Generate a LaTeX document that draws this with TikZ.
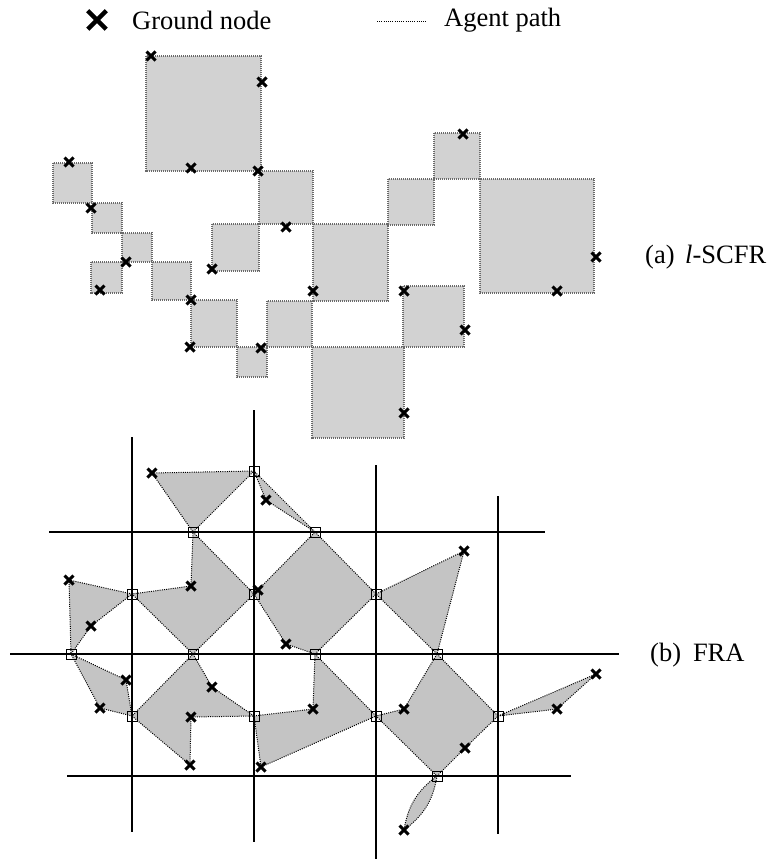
\documentclass[tikz,border=0pt]{standalone}
\usepackage{fontspec}
\setmainfont{Liberation Serif}
\usetikzlibrary{shapes.misc}
\definecolor{filla}{RGB}{210,210,210}
\definecolor{edgea}{RGB}{105,105,105}
\definecolor{fillb}{RGB}{196,196,196}
\begin{document}
\begin{tikzpicture}[x=1pt,y=-1pt,
  gnode/.style={cross out, draw=black, line width=3pt, minimum size=9pt, inner sep=0pt, outer sep=0pt},
  bignode/.style={cross out, draw=black, line width=4.5pt, minimum size=14pt, inner sep=0pt},
  snode/.style={rectangle, draw=black, line width=1pt, minimum size=10pt, inner sep=0pt},
  sqa/.style={fill=filla, draw=edgea, line width=1.8pt, dash pattern=on 1.2pt off 0.8pt},
  region/.style={fill=fillb, draw=black, line width=1pt, dash pattern=on 1pt off 1.2pt},
  agentpath/.style={draw=black, line width=1pt, dash pattern=on 1pt off 1.2pt},
  gridline/.style={draw=black, line width=1.3pt},
  lbl/.style={inner sep=0pt, font=\fontsize{26.5}{31}\selectfont}]
\useasboundingbox (0,0) rectangle (782,861);

% ---------- legend ----------
\node[bignode] (lx) at (97,20) {};
\node[lbl, anchor=west] (lt1) at (132,20) {Ground node};
\coordinate (lp1) at (377,22);
\coordinate (lp2) at (426,22);
\draw[agentpath] (lp1) -- (lp2);
\node[lbl, anchor=west] (lt2) at (444,20) {Agent path};

% ---------- (a) l-SCFR ----------
\path[sqa] (146,56) rectangle (261,171);
\path[sqa] (53,163) rectangle (92,203);
\path[sqa] (92,203) rectangle (122,233);
\path[sqa] (122,233) rectangle (152,262);
\path[sqa] (91,262) rectangle (122,293);
\path[sqa] (152,262) rectangle (191,300);
\path[sqa] (191,300) rectangle (237,347);
\path[sqa] (237,347) rectangle (267,377);
\path[sqa] (267,301) rectangle (312,347);
\path[sqa] (212,224) rectangle (259,271);
\path[sqa] (259,171) rectangle (313,224);
\path[sqa] (313,224) rectangle (388,301);
\path[sqa] (388,179) rectangle (434,225);
\path[sqa] (434,133) rectangle (480,179);
\path[sqa] (480,179) rectangle (594,293);
\path[sqa] (403,286) rectangle (464,347);
\path[sqa] (312,347) rectangle (404,438);

\node[gnode] (g1) at (151,56) {};
\node[gnode] (g2) at (262,82) {};
\node[gnode] (g3) at (191,168) {};
\node[gnode] (g4) at (258,171) {};
\node[gnode] (g5) at (69,162) {};
\node[gnode] (g6) at (91,208) {};
\node[gnode] (g7) at (286,227) {};
\node[gnode] (g8) at (126,262) {};
\node[gnode] (g9) at (100,290) {};
\node[gnode] (g10) at (212,269) {};
\node[gnode] (g11) at (191,300) {};
\node[gnode] (g12) at (190,347) {};
\node[gnode] (g13) at (261,348) {};
\node[gnode] (g14) at (313,291) {};
\node[gnode] (g15) at (463,134) {};
\node[gnode] (g16) at (596,257) {};
\node[gnode] (g17) at (557,291) {};
\node[gnode] (g18) at (404,291) {};
\node[gnode] (g19) at (465,330) {};
\node[gnode] (g20) at (404,413) {};

\node[lbl, anchor=west] (la) at (645,257) {(a)\hspace{0.4em}\textit{l}-SCFR};

% ---------- (b) FRA ----------
\coordinate (h1) at (152,473);
\coordinate (h2) at (266,500);
\coordinate (h3) at (191,586);
\coordinate (h4) at (258,590);
\coordinate (h5) at (69,580);
\coordinate (h6) at (91,626);
\coordinate (h7) at (286,644);
\coordinate (h8) at (464,551);
\coordinate (h9) at (126,680);
\coordinate (h10) at (100,708);
\coordinate (h11) at (212,687);
\coordinate (h12) at (191,717);
\coordinate (h13) at (190,765);
\coordinate (h14) at (313,709);
\coordinate (h15) at (261,767);
\coordinate (h16) at (404,709);
\coordinate (h17) at (465,748);
\coordinate (h18) at (404,830);
\coordinate (h19) at (596,674);
\coordinate (h20) at (557,709);

\coordinate (s1) at (254,471);
\coordinate (s2) at (193,532);
\coordinate (s3) at (315,532);
\coordinate (s4) at (132,594);
\coordinate (s5) at (254,594);
\coordinate (s6) at (376,594);
\coordinate (s7) at (71,654);
\coordinate (s8) at (193,654);
\coordinate (s9) at (315,654);
\coordinate (s10) at (437,654);
\coordinate (s11) at (132,716);
\coordinate (s12) at (254,716);
\coordinate (s13) at (376,716);
\coordinate (s14) at (498,716);
\coordinate (s15) at (437,776);

% regions
\path[region] (h1) -- (s1) -- (s2) -- cycle;
\path[region] (s1) -- (h2) -- (s3) -- cycle;
\path[region] (s2) -- (s5) -- (s8) -- (s4) -- (h3) -- cycle;
\path[region] (h5) -- (s4) -- (h6) -- (s7) -- cycle;
\path[region] (s3) -- (s6) -- (s9) -- (h7) -- (s5) -- (h4) -- cycle;
\path[region] (s6) -- (h8) -- (s10) -- cycle;
\path[region] (s7) -- (h9) -- (s11) -- (h10) -- cycle;
\path[region] (s8) -- (h11) -- (s12) -- (h12) -- (h13) -- (s11) -- cycle;
\path[region] (s9) -- (s13) -- (h15) -- (s12) -- (h14) -- cycle;
\path[region] (s10) -- (s14) -- (h17) -- (s15) -- (s13) -- (h16) -- cycle;
\path[region] (s14) -- (h19) -- (h20) -- cycle;
\path[region] (s15) to[bend right=22] (h18) to[bend right=22] (s15);

% grid lines
\draw[gridline] (132,437) -- (132,832);
\draw[gridline] (254,410) -- (254,842);
\draw[gridline] (376,465) -- (376,859);
\draw[gridline] (498,496) -- (498,834);
\draw[gridline] (49,532) -- (545,532);
\draw[gridline] (10,654) -- (619,654);
\draw[gridline] (67,776) -- (571,776);

% markers
\foreach \i in {1,...,20} { \node[gnode] (hx\i) at (h\i) {}; }
\foreach \i in {1,...,15} { \node[snode] (sq\i) at (s\i) {}; }

\node[lbl, anchor=west] (lb) at (650,655) {(b)\hspace{0.45em}FRA};
\end{tikzpicture}
\end{document}
